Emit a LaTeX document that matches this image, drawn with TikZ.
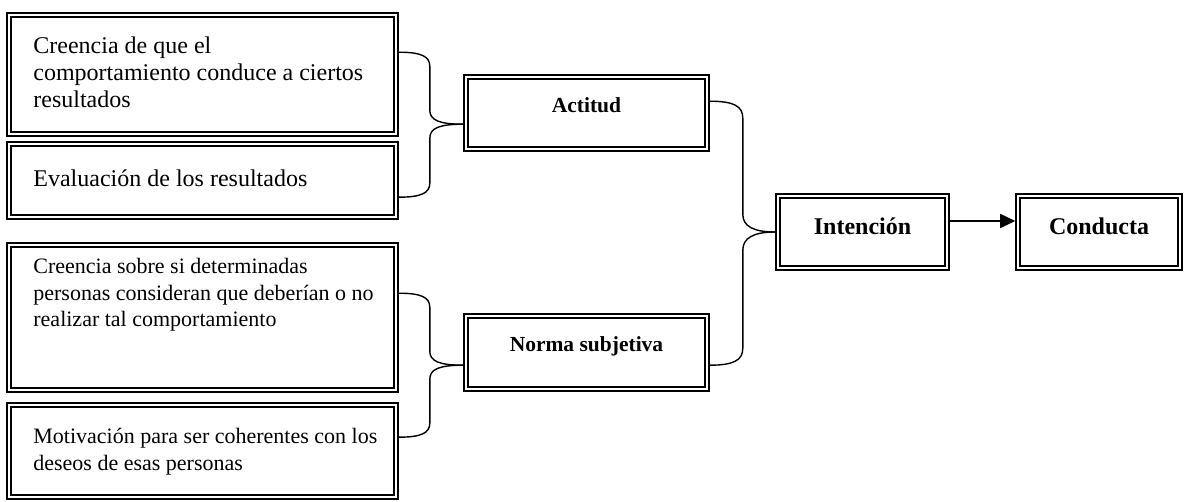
\documentclass[tikz,border=0pt]{standalone}
\usepackage{fontspec}
\setmainfont{Liberation Serif}
\usetikzlibrary{calc,arrows.meta}
\begin{document}
\begin{tikzpicture}[x=1pt,y=-1pt,
  frame/.style={rectangle, draw, line width=1.9pt, double=white, double distance=1.8pt,
    inner sep=0pt, outer sep=2.8pt},
  link/.style={line width=1.4pt},
  bodytext/.style={anchor=north west, align=left, inner sep=0pt,
    font=\fontsize{24}{27.3}\selectfont},
  smalltext/.style={anchor=north west, align=left, inner sep=0pt,
    font=\fontsize{22}{26.6}\selectfont},
  midtitle/.style={anchor=base, inner sep=0pt, font=\fontsize{21.5}{24}\selectfont\bfseries},
  bigtitle/.style={anchor=base, inner sep=0pt, font=\fontsize{24}{27}\selectfont\bfseries}]
\useasboundingbox (0,0) rectangle (1184,502);

% belief boxes on the left
\node[frame, minimum width=387pt, minimum height=119pt] (b1) at (202.5,74.5) {};
\node[frame, minimum width=387pt, minimum height=73pt]  (b2) at (202.5,180.5) {};
\node[frame, minimum width=387pt, minimum height=145pt] (b3) at (202.5,317.5) {};
\node[frame, minimum width=387pt, minimum height=92pt]  (b4) at (202.5,451) {};

% constructs
\node[frame, minimum width=241pt, minimum height=72pt] (att) at (586.5,113) {};
\node[frame, minimum width=241pt, minimum height=73pt] (nor) at (586.5,352.5) {};
\node[frame, minimum width=169pt, minimum height=72pt] (int) at (862.5,232) {};
\node[frame, minimum width=162pt, minimum height=72pt] (con) at (1099,232) {};

% texts
\node[bodytext] (t1) at ($(b1.north west)+(27,24)$)
  {Creencia de que el\\comportamiento conduce a ciertos\\resultados};
\node[bodytext] (t2) at ($(b2.north west)+(27,28)$) {Evaluación de los resultados};
\node[smalltext] (t3) at ($(b3.north west)+(27,16)$)
  {Creencia sobre si determinadas\\personas consideran que deberían o no\\realizar tal comportamiento};
\node[smalltext] (t4) at ($(b4.north west)+(27,26)$)
  {Motivación para ser coherentes con los\\deseos de esas personas};
\node[midtitle] (ta) at ($(att.north)+(0,38)$) {Actitud};
\node[midtitle] (tn) at ($(nor.north)+(0,38)$) {Norma subjetiva};
\node[bigtitle] (ti) at ($(int.north)+(0,41)$) {Intención};
\node[bigtitle] (tc) at ($(con.north)+(0,41)$) {Conducta};

% attachment points
\coordinate (b1r) at ($(b1.north east)+(0,40)$);
\coordinate (b2r) at ($(b2.north east)+(0,56)$);
\coordinate (b3r) at ($(b3.north east)+(0,51)$);
\coordinate (b4r) at ($(b4.north east)+(0,35)$);
\coordinate (aL) at ($(att.north west)+(0,50)$);
\coordinate (aR) at ($(att.north east)+(0,27)$);
\coordinate (nL) at ($(nor.north west)+(0,52)$);
\coordinate (nR) at ($(nor.north east)+(0,52)$);
\coordinate (iL) at (int.west);
\coordinate (iR) at ($(int.east)+(0,-11)$);

% brace-shaped connectors
\draw[link] (b1r) .. controls +(22,0) and +(0,-10) .. ++(31,14) -- ++(0,44)
  .. controls +(0,10) and +(-24,0) .. (aL);
\draw[link] (b2r) .. controls +(22,0) and +(0,10) .. ++(31,-14) -- ++(0,-45)
  .. controls +(0,-10) and +(-24,0) .. (aL);
\draw[link] (b3r) .. controls +(22,0) and +(0,-10) .. ++(31,14) -- ++(0,44)
  .. controls +(0,10) and +(-24,0) .. (nL);
\draw[link] (b4r) .. controls +(22,0) and +(0,10) .. ++(31,-14) -- ++(0,-44)
  .. controls +(0,-10) and +(-24,0) .. (nL);
\draw[link] (aR) .. controls +(24,0) and +(0,-12) .. ++(33,17) -- ++(0,96)
  .. controls +(0,12) and +(-22,0) .. (iL);
\draw[link] (nR) .. controls +(24,0) and +(0,12) .. ++(33,-17) -- ++(0,-98)
  .. controls +(0,-12) and +(-22,0) .. (iL);

% intention leads to behaviour
\draw[line width=1.8pt, -{Triangle[length=15pt,width=14pt]}] (iR) -- (iR -| con.west);
\end{tikzpicture}
\end{document}
